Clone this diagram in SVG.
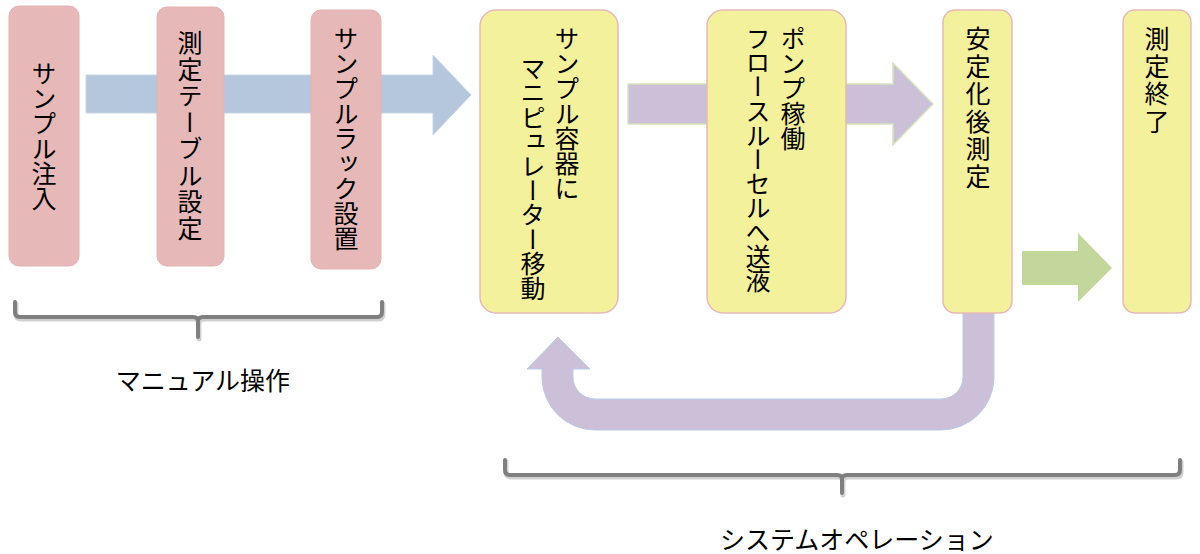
<svg xmlns="http://www.w3.org/2000/svg" width="1200" height="554" viewBox="0 0 1200 554">
<style>
  .pink{fill:#e6b9b8;stroke:#e3b3b2;stroke-width:1}
  .yel{fill:#f4f19c;stroke:#e6b9b8;stroke-width:1.5}
  .vt{font-family:"Noto Sans CJK JP","Noto Sans CJK SC",sans-serif;font-size:25px;fill:#000;writing-mode:vertical-rl}
  .ht{font-family:"Noto Sans CJK JP","Noto Sans CJK SC",sans-serif;font-size:25px;fill:#000;text-anchor:middle}
  .brace{fill:none;stroke:#7f7f7f;stroke-width:4;stroke-linejoin:round;stroke-linecap:round}
  .braceSh{fill:none;stroke:#000;stroke-opacity:0.18;stroke-width:5;stroke-linejoin:round;stroke-linecap:round}
</style>
<rect width="1200" height="554" fill="#ffffff"/>
<g id="connectors">
  <path id="arrow-blue" d="M86 75 L433 75 L433 55 L471 95 L433 135 L433 113 L86 113 Z" fill="#b4c7dc" stroke="#c8d5e5" stroke-width="1"/>
  <path id="arrow-purple" d="M628 84 L893 84 L893 63 L933 104 L893 145 L893 124 L628 124 Z" fill="#cbc0d8" stroke="#d7e4bd" stroke-width="1.5"/>
  <path id="arrow-green" d="M1022 251 L1078 251 L1078 233 L1112 268 L1078 302 L1078 285 L1022 285 Z" fill="#c3d69b"/>
  <path id="arrow-return" d="M963 300 L994 300 L994 377 A53 53 0 0 1 941 430 L595 430 A53 53 0 0 1 542 377 L542 369 L527 369 L558 337 L590 369 L573 369 L573 377 A22 22 0 0 0 595 399 L941 399 A22 22 0 0 0 963 377 Z" fill="#cbc0d8" stroke="#b9cde5" stroke-width="1"/>
</g>
<g id="node-sample-inject">
  <rect class="pink" x="9" y="6" width="70" height="260" rx="10"/>
  <text class="vt" x="44" y="136" text-anchor="middle">サンプル注入</text>
</g>
<g id="node-table-setting">
  <rect class="pink" x="157" y="7" width="67" height="259" rx="10"/>
  <text class="vt" x="190" y="136" text-anchor="middle" letter-spacing="1.5">測定テーブル設定</text>
</g>
<g id="node-rack-setting">
  <rect class="pink" x="311" y="10" width="70" height="259" rx="10"/>
  <text class="vt" x="346" y="138" text-anchor="middle">サンプルラック設置</text>
</g>
<g id="node-manipulator">
  <rect class="yel" x="480" y="10" width="138" height="303" rx="16"/>
  <text class="vt" x="567" y="26">サンプル容器に</text>
  <text class="vt" x="533" y="56" letter-spacing="-0.6">マニピュレーター移動</text>
</g>
<g id="node-pump">
  <rect class="yel" x="707" y="10" width="139" height="303" rx="16"/>
  <text class="vt" x="793" y="26">ポンプ稼働</text>
  <text class="vt" x="758" y="26" letter-spacing="-0.8">フロースルーセルへ送液</text>
</g>
<g id="node-measure">
  <rect class="yel" x="943" y="10" width="69" height="303" rx="12"/>
  <text class="vt" x="978" y="26" letter-spacing="2.5">安定化後測定</text>
</g>
<g id="node-end">
  <rect class="yel" x="1123" y="10" width="68" height="303" rx="12"/>
  <text class="vt" x="1157" y="26" letter-spacing="2.5">測定終了</text>
</g>
<g id="brace-manual">
  <path class="braceSh" d="M16 304 L16 314 Q16 319 21 319 L194 319 Q199 319 199 323 L199 339 M199 323 Q199 319 204 319 L378 319 Q383 319 383 314 L383 304"/>
  <path class="brace" d="M15 302 L15 312 Q15 317 20 317 L193 317 Q198 317 198 321 L198 337 M198 321 Q198 317 203 317 L377 317 Q382 317 382 312 L382 302"/>
  <text class="ht" x="203" y="390">マニュアル操作</text>
</g>
<g id="brace-system">
  <path class="braceSh" d="M506 462 L506 472 Q506 477 511 477 L838 477 Q843 477 843 481 L843 495 M843 481 Q843 477 848 477 L1176 477 Q1181 477 1181 472 L1181 462"/>
  <path class="brace" d="M505 460 L505 470 Q505 475 510 475 L837 475 Q842 475 842 479 L842 493 M842 479 Q842 475 847 475 L1175 475 Q1180 475 1180 470 L1180 460"/>
  <text class="ht" x="857" y="549">システムオペレーション</text>
</g>
</svg>
